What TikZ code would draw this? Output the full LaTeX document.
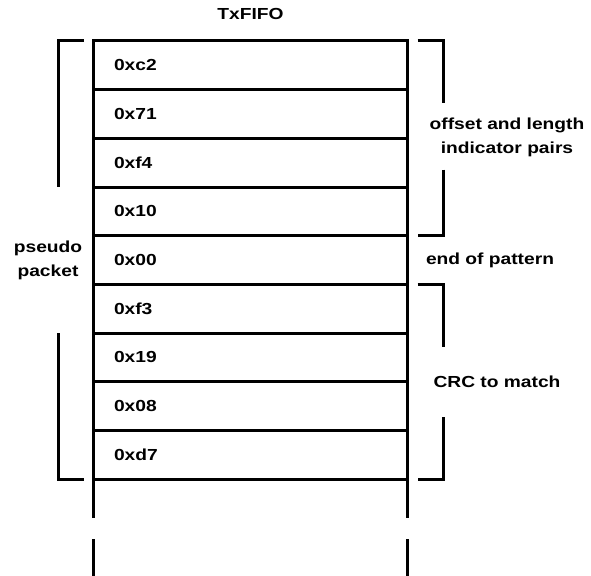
\documentclass[tikz,border=0pt]{standalone}
\usepackage{fontspec}
\setmainfont{Liberation Sans}[FakeStretch=1.2]
\usetikzlibrary{positioning}

\begin{document}
\begin{tikzpicture}[
    x=1pt,
    y=-1pt,
    font=\fontsize{16}{19}\selectfont\bfseries,
    line width=3pt,
    cell/.style={
        draw,
        minimum width=314pt,
        minimum height=48.67pt,
        inner sep=0pt,
        outer sep=0pt,
        anchor=north west
    },
    val/.style={anchor=west, inner sep=0pt},
    lbl/.style={align=center, inner sep=0pt, font=\fontsize{16}{24}\selectfont\bfseries}
]
\useasboundingbox (0,0) rectangle (591,575);

% ============================================================
% FIFO CELLS
% ============================================================
\foreach \v [count=\i] in {0xc2,0x71,0xf4,0x10,0x00,0xf3,0x19,0x08,0xd7}{
    \node[cell] (r\i) at (93.5,{41+(\i-1)*48.67}) {};
    \node[val] (v\i) at ([xshift=19pt]r\i.west) {\v};
}

\node[lbl, above=20pt of r1] (title) {TxFIFO};

% open end of the FIFO
\draw (r9.south west) -- ++(0,39);
\draw (r9.south east) -- ++(0,39);
\draw ([yshift=-60pt]r9.south west) -- ++(0,38);
\draw ([yshift=-60pt]r9.south east) -- ++(0,38);

% ============================================================
% LEFT BRACKET: PSEUDO PACKET
% ============================================================
\draw ([xshift=-10pt]r1.north west) -- ([xshift=-35.5pt]r1.north west)
    -- ([xshift=-35.5pt]r3.south west);
\draw ([xshift=-35.5pt]r7.north west) -- ([xshift=-35.5pt]r9.south west)
    -- ([xshift=-10pt]r9.south west);
\node[lbl] (pseudo) at (48,260) {pseudo\\packet};

% ============================================================
% RIGHT BRACKETS
% ============================================================
\draw ([xshift=10pt]r1.north east) -- ([xshift=35.5pt]r1.north east) -- ++(0,62);
\draw ([xshift=35.5pt]r4.south east) coordinate (pb) ++(0,-66) -- (pb)
    -- ([xshift=10pt]r4.south east);
\node[lbl] (pairs) at (507,137) {offset and length\\indicator pairs};

\node[lbl, right=17pt of r5] (eop) {end of pattern};

\draw ([xshift=10pt]r6.north east) -- ([xshift=35.5pt]r6.north east) -- ++(0,63);
\draw ([xshift=35.5pt]r9.south east) coordinate (cb) ++(0,-62) -- (cb)
    -- ([xshift=10pt]r9.south east);
\node[lbl] (crc) at (497,382) {CRC to match};

\end{tikzpicture}
\end{document}
